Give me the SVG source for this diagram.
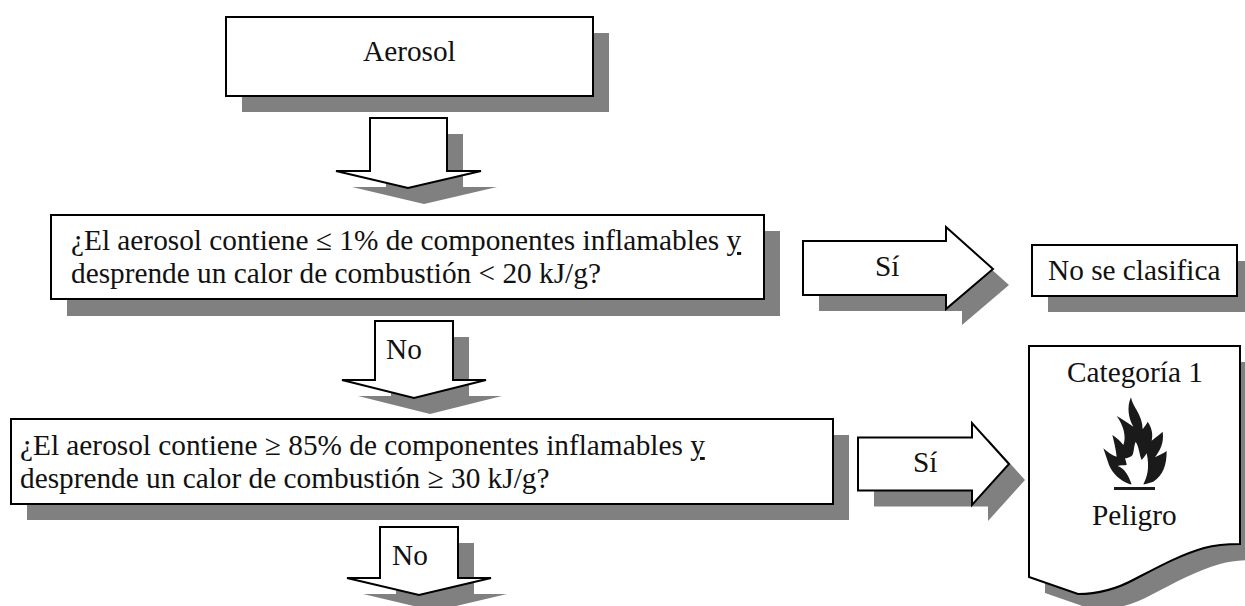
<svg xmlns="http://www.w3.org/2000/svg" width="1245" height="606" viewBox="0 0 1245 606">
<style>
.s{fill:#808080;stroke:none}
.b{fill:#fff;stroke:#000;stroke-width:2;stroke-linejoin:miter}
text{font-family:"Liberation Serif","Times New Roman",serif;font-size:29.3px;fill:#111}
.u{text-decoration:underline}
</style>
<defs>
<path id="a1" d="M370 118H447V171H481L408 188L336 171H370Z"/>
<path id="a2" d="M375 321H453V380H486L414 398L342 380H375Z"/>
<path id="a3" d="M380 527H458V578H491L419 595L347 578H380Z"/>
<path id="a4" d="M803 241H946V227L993 269L946 309V295H803Z"/>
<path id="a5" d="M858 437.500H972V423L1009 464L972 505V490.500H858Z"/>
<path id="doc" d="M1029 346H1240V544C1225 544 1215 545 1204 548C1180 555 1160 566 1135 579C1115 590 1095 594 1078 594L1029 577Z"/>
</defs>
<rect width="1245" height="606" fill="#fff"/>
<g id="connectors">
<g id="arrow-aerosol"><use href="#a1" class="s" x="16" y="16"/><use href="#a1" class="b"/></g>
<g id="arrow-no-1"><use href="#a2" class="s" x="16" y="16"/><use href="#a2" class="b"/><text x="386" y="359">No</text></g>
<g id="arrow-no-2"><use href="#a3" class="s" x="16" y="16"/><use href="#a3" class="b"/><text x="392" y="565">No</text></g>
<g id="arrow-si-1"><use href="#a4" class="s" x="16" y="16"/><use href="#a4" class="b"/><text x="875" y="276">Sí</text></g>
<g id="arrow-si-2"><use href="#a5" class="s" x="16" y="16"/><use href="#a5" class="b"/><text x="913" y="472">Sí</text></g>
</g>
<g id="node-aerosol">
<rect class="s" x="242" y="33" width="367" height="79"/>
<rect class="b" x="226" y="17" width="367" height="79"/>
<text x="363" y="61">Aerosol</text>
</g>
<g id="node-q1">
<rect class="s" x="67" y="231" width="713" height="85"/>
<rect class="b" x="51" y="215" width="713" height="84"/>
<text x="71" y="250">¿El aerosol contiene ≤ 1% de componentes inflamables <tspan class="u">y</tspan></text>
<text x="71" y="283">desprende un calor de combustión &lt; 20 kJ/g?</text>
</g>
<g id="node-no-clasifica">
<rect class="s" x="1048" y="261" width="205" height="51"/>
<rect class="b" x="1032" y="245" width="205" height="51"/>
<text x="1048" y="280">No se clasifica</text>
</g>
<g id="node-q2">
<rect class="s" x="27" y="435" width="822" height="85"/>
<rect class="b" x="11" y="419" width="822" height="85"/>
<text x="20" y="455">¿El aerosol contiene ≥ 85% de componentes inflamables <tspan class="u">y</tspan></text>
<text x="20" y="488">desprende un calor de combustión ≥ 30 kJ/g?</text>
</g>
<g id="node-categoria">
<use href="#doc" class="s" x="16" y="16"/>
<use href="#doc" class="b"/>
<text x="1067" y="382">Categoría 1</text>
<g transform="translate(1095 390) scale(.3333)">
<path fill="#1a1a1a" fill-rule="evenodd" d="M108 22C112 50 143 75 143 118C150 108 156 100 158 95C172 115 174 135 170 152C182 142 195 132 203 125C208 160 195 180 180 202C192 196 205 190 215 183C215 225 205 255 175 275L150 283H105C75 272 52 250 42 225L25 175C38 187 52 197 65 200C62 175 57 155 52 135C65 143 78 155 85 165C95 140 85 105 65 78C82 88 100 100 115 110C100 85 95 50 108 22Z
M122 155C115 172 118 190 110 198C102 202 95 205 90 205C92 212 95 220 95 225C85 226 76 226 68 228C88 235 100 255 110 283H145C156 262 165 235 155 190C150 198 145 205 140 210C133 195 133 172 122 155Z"/>
<rect x="57" y="291" width="123" height="9" fill="#1a1a1a"/>
</g>
<text x="1092" y="525">Peligro</text>
</g>
</svg>
